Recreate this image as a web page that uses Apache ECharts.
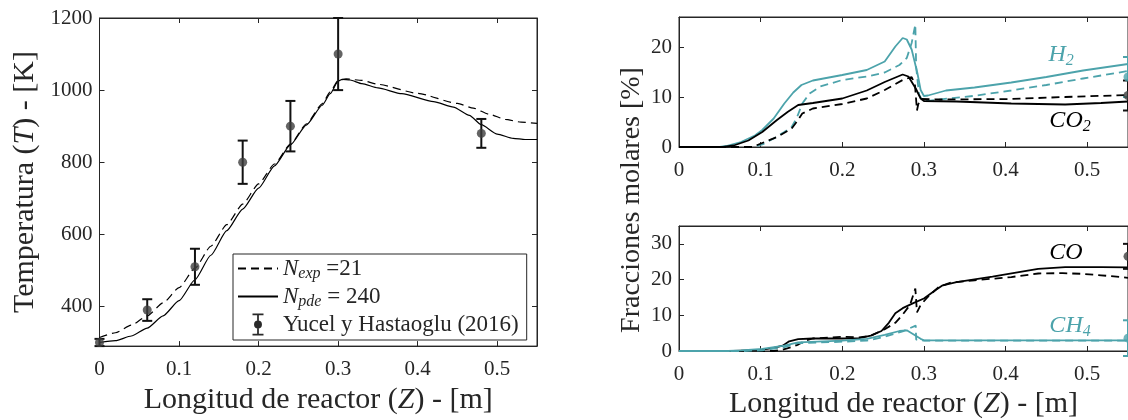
<!DOCTYPE html>
<html>
<head>
<meta charset="utf-8">
<script src="https://cdn.jsdelivr.net/npm/echarts@6/dist/echarts.min.js"></script>
<style>html,body{margin:0;padding:0;background:#fff}#c{width:1128px;height:420px}</style>
</head>
<body>
<div id="c"></div>
<script>
// ---------- data ----------
const xTicks = [0, 0.1, 0.2, 0.3, 0.4, 0.5];
const tTicks = [400, 600, 800, 1000, 1200];
const topTicks = [0, 10, 20];
const botTicks = [0, 10, 20, 30];

const tempExp = [[0,314],[0.02,327],[0.04,348],[0.06,374],[0.08,410],[0.10,452],[0.12,506],[0.14,567],[0.16,627],[0.18,684],[0.20,740],[0.22,795],[0.24,850],[0.26,906],[0.28,962],[0.29,995],[0.30,1027],[0.31,1031],[0.33,1027],[0.35,1016],[0.40,991],[0.45,963],[0.47,950],[0.49,933],[0.51,919],[0.53,911],[0.55,908]];
const tempPde = [[0,300],[0.02,305],[0.04,318],[0.06,340],[0.08,374],[0.10,416],[0.12,474],[0.14,542],[0.16,610],[0.18,670],[0.20,728],[0.22,790],[0.24,848],[0.26,903],[0.28,958],[0.29,990],[0.30,1025],[0.305,1030],[0.315,1028],[0.33,1018],[0.35,1006],[0.38,990],[0.42,968],[0.445,953],[0.465,930],[0.48,904],[0.50,878],[0.52,866],[0.535,863],[0.55,863]];

const expZ = [0, 0.06, 0.12, 0.18, 0.24, 0.30, 0.48];
const expT = [300, 390, 510, 800, 900, 1100, 880];
const expTerr = [10, 30, 50, 60, 70, 100, 40];

const h2Pde = [[0,0],[0.05,0],[0.058,0.2],[0.076,1.0],[0.093,2.3],[0.102,3.4],[0.116,5.7],[0.129,8.7],[0.14,10.9],[0.15,12.4],[0.164,13.3],[0.2,14.4],[0.23,15.4],[0.252,17.1],[0.265,20.1],[0.274,21.8],[0.279,21.5],[0.285,19.5],[0.292,14.8],[0.296,11.4],[0.3,10.2],[0.305,10.3],[0.327,11.3],[0.362,11.9],[0.407,12.9],[0.45,14.0],[0.495,15.3],[0.55,16.6]];
const h2Exp = [[0,0],[0.09,0],[0.102,0.5],[0.116,1.7],[0.129,3.0],[0.138,4.0],[0.144,5.7],[0.151,8.7],[0.16,10.7],[0.173,12.1],[0.2,13.4],[0.23,14.1],[0.252,14.9],[0.27,16.4],[0.279,17.8],[0.285,20.8],[0.2895,24.5],[0.2905,16],[0.294,10.5],[0.298,9.3],[0.305,9.2],[0.33,9.7],[0.36,10.2],[0.407,11.3],[0.45,12.4],[0.495,13.7],[0.55,15.2]];
const co2Pde = [[0,0],[0.054,0],[0.067,0.3],[0.085,1.3],[0.102,3.0],[0.12,5.4],[0.133,7.0],[0.146,8.4],[0.164,8.8],[0.2,9.7],[0.23,11.3],[0.252,13.0],[0.274,14.5],[0.281,14.1],[0.29,11.7],[0.296,9.7],[0.3,9.2],[0.34,9.1],[0.407,8.7],[0.473,8.5],[0.517,8.8],[0.55,9.1]];
const co2Exp = [[0,0],[0.09,0],[0.102,0.8],[0.12,2.0],[0.138,3.7],[0.144,5.0],[0.151,6.7],[0.164,7.7],[0.2,8.6],[0.23,9.7],[0.252,11.4],[0.274,13.4],[0.285,14.0],[0.289,12.5],[0.2915,7.3],[0.293,8.5],[0.296,9.6],[0.32,9.5],[0.407,9.6],[0.473,10.0],[0.55,10.4]];

const coPde = [[0,0],[0.067,0],[0.085,0.2],[0.102,0.4],[0.116,0.9],[0.127,1.5],[0.135,2.7],[0.146,3.3],[0.164,3.5],[0.2,3.5],[0.221,3.6],[0.235,4.3],[0.248,5.6],[0.257,7.9],[0.265,10.6],[0.274,12.0],[0.287,13.4],[0.3,14.7],[0.314,17.0],[0.323,18.4],[0.34,19.3],[0.384,20.8],[0.429,22.6],[0.44,23.0],[0.473,23.5],[0.517,23.5],[0.55,23.4]];
const coExp = [[0,0],[0.116,0],[0.127,0.4],[0.138,1.1],[0.146,1.8],[0.155,2.9],[0.164,3.5],[0.2,4.0],[0.221,3.8],[0.235,4.3],[0.252,6.1],[0.265,7.9],[0.274,10.2],[0.283,12.9],[0.2895,17.5],[0.2915,10.8],[0.296,12.9],[0.305,15.2],[0.318,17.9],[0.332,19.1],[0.362,19.8],[0.407,20.7],[0.44,21.7],[0.47,21.8],[0.495,21.6],[0.517,21.2],[0.55,20.5]];
const ch4Pde = [[0,0],[0.06,0],[0.076,0.2],[0.102,0.6],[0.129,1.5],[0.146,2.4],[0.2,2.9],[0.23,3.4],[0.252,4.5],[0.27,5.6],[0.279,5.8],[0.287,4.7],[0.296,3.4],[0.3,3.0],[0.55,3.0]];
const ch4Exp = [[0,0],[0.08,0],[0.102,0.2],[0.129,1.1],[0.146,2.2],[0.2,2.6],[0.23,2.9],[0.252,4.0],[0.274,5.5],[0.29,7.1],[0.2905,3.2],[0.3,2.9],[0.55,2.9]];

// experimental points at the right border of the composition panels
const edgeZ = [0.55];
const h2Pt = [14], h2Err = [4];
const co2Pt = [10.3], co2Err = [3];
const coPt = [26.5], coErr = [3.5];
const ch4Pt = [3.6], ch4Err = [5];

// annotation anchors (data coordinates)
const lblH2 = [0.468, 18.4], lblCO2 = [0.479, 5.3], lblCO = [0.474, 27.4], lblCH4 = [0.479, 7.0];

// ---------- style ----------
const FONT = "'Liberation Serif', serif";
const AX = '#262626';
const CY = '#4ca3ab';
const DOT = '#3d3d3d';

function rich(size, color) {
  return {
    i: {fontFamily: FONT, fontStyle: 'italic', fontSize: size, color: color, lineHeight: size + 4},
    s: {fontFamily: FONT, fontStyle: 'italic', fontSize: Math.round(size * 0.68), color: color, verticalAlign: 'bottom', lineHeight: Math.round(size * 0.6)},
    t: {fontFamily: FONT, fontSize: size, color: color, lineHeight: size + 4}
  };
}

function errData(z, v, e) { return z.map((x, k) => [x, v[k] - e[k], v[k] + e[k]]); }
function ptData(z, v) { return z.map((x, k) => [x, v[k]]); }

function errSeries(name, xi, yi, data, color) {
  return {
    name: name, type: 'custom', xAxisIndex: xi, yAxisIndex: yi, clip: false, z: 5,
    itemStyle: {color: color},
    encode: {x: 0, y: [1, 2]},
    data: data,
    renderItem: function (params, api) {
      const x = api.value(0), lo = api.value(1), hi = api.value(2);
      const a = api.coord([x, lo]), b = api.coord([x, hi]);
      const w = 5, st = {stroke: color, lineWidth: 2};
      return {type: 'group', children: [
        {type: 'line', shape: {x1: a[0], y1: a[1], x2: b[0], y2: b[1]}, style: st},
        {type: 'line', shape: {x1: a[0] - w, y1: a[1], x2: a[0] + w, y2: a[1]}, style: st},
        {type: 'line', shape: {x1: b[0] - w, y1: b[1], x2: b[0] + w, y2: b[1]}, style: st}
      ]};
    }
  };
}
function dotSeries(name, xi, yi, data, color) {
  return {name: name, type: 'scatter', xAxisIndex: xi, yAxisIndex: yi, clip: false, z: 6,
    symbol: 'circle', symbolSize: 9, itemStyle: {color: color}, data: data};
}
function lineSeries(name, xi, yi, data, color, dashed, width, smooth) {
  return {name: name, type: 'line', xAxisIndex: xi, yAxisIndex: yi, data: data,
    symbol: 'none', showSymbol: false, smooth: smooth || false, smoothMonotone: 'x',
    lineStyle: {color: color, width: width, type: dashed ? [8, 5] : 'solid'},
    itemStyle: {color: color}, z: 3};
}
function label(coord, fmt, color) {
  return {symbol: 'circle', symbolSize: 1, itemStyle: {color: 'rgba(0,0,0,0)'}, silent: true,
    label: {show: true, position: 'inside', formatter: fmt, rich: rich(24, color)},
    data: [{coord: coord}]};
}

const tickLbl = {fontFamily: FONT, fontSize: 21, color: AX};
const nameStyle = {fontFamily: FONT, fontSize: 30, color: AX, rich: rich(30, AX)};
const numFmt = function (v) { return String(Math.round(v * 1000) / 1000); };

function xAx(grid, ticks, opts) {
  return Object.assign({
    gridIndex: grid, type: 'value', min: 0, max: 0.55,
    axisLine: {show: true, onZero: false, lineStyle: {color: AX, width: 1}},
    axisTick: {show: true, inside: true, length: 5, customValues: ticks, lineStyle: {color: AX}},
    axisLabel: Object.assign({show: true, margin: 13, customValues: ticks, formatter: numFmt}, tickLbl),
    splitLine: {show: false}
  }, opts || {});
}
function yAx(grid, min, max, ticks, opts) {
  return Object.assign({
    gridIndex: grid, type: 'value', min: min, max: max,
    axisLine: {show: true, onZero: false, lineStyle: {color: AX, width: 1}},
    axisTick: {show: true, inside: true, length: 5, customValues: ticks, lineStyle: {color: AX}},
    axisLabel: Object.assign({show: true, margin: 7, customValues: ticks, formatter: numFmt}, tickLbl),
    splitLine: {show: false}
  }, opts || {});
}
const noLbl = {show: false};

const EXP = 'Yucel y Hastaoglu (2016)';
const errIcon = 'path://M0,0H10V1.6H5.8V18.4H10V20H0V18.4H4.2V1.6H0Z M8.6,10A3.6,3.6,0,1,1,1.4,10A3.6,3.6,0,1,1,8.6,10Z';

const option = {
  animation: false,
  backgroundColor: '#fff',
  textStyle: {fontFamily: FONT},
  grid: [
    {left: 99.5, top: 18, width: 437.5, height: 336, show: true, borderColor: AX, borderWidth: 1},
    {left: 679, top: 17, width: 451, height: 130, show: true, borderColor: AX, borderWidth: 1},
    {left: 679, top: 226, width: 451, height: 128, show: true, borderColor: AX, borderWidth: 1}
  ],
  xAxis: [
    xAx(0, xTicks, {name: 'Longitud de reactor ({i|Z}) - [m]', nameLocation: 'middle', nameGap: 36, nameTextStyle: nameStyle}),
    xAx(0, xTicks, {position: 'top', axisLabel: noLbl}),
    xAx(1, xTicks),
    xAx(1, xTicks, {position: 'top', axisLabel: noLbl}),
    xAx(2, xTicks, {name: 'Longitud de reactor ({i|Z}) - [m]', nameLocation: 'middle', nameGap: 36, nameTextStyle: nameStyle}),
    xAx(2, xTicks, {position: 'top', axisLabel: noLbl})
  ],
  yAxis: [
    yAx(0, 290, 1200, tTicks, {name: 'Temperatura ({i|T}) - [K]', nameLocation: 'middle', nameGap: 57, nameTextStyle: nameStyle}),
    yAx(0, 290, 1200, tTicks, {position: 'right', axisLabel: noLbl}),
    yAx(1, 0, 26, topTicks),
    yAx(2, 0, 35, botTicks)
  ],
  legend: {
    orient: 'vertical', left: 233, top: 254, itemWidth: 40, itemHeight: 22, itemGap: 3,
    padding: [3, 8, 4, 4], borderColor: AX, borderWidth: 1, backgroundColor: '#fff',
    selectedMode: false,
    textStyle: {fontFamily: FONT, fontSize: 23, color: AX, rich: rich(23, AX)},
    data: [
      {name: 'Nexp', itemStyle: {opacity: 0}},
      {name: 'Npde', itemStyle: {opacity: 0}},
      {name: EXP, icon: errIcon, itemStyle: {color: '#2a2a2a'}}
    ],
    formatter: function (n) {
      if (n === 'Nexp') return '{i|N}{s|exp}{t| =21}';
      if (n === 'Npde') return '{i|N}{s|pde}{t| = 240}';
      return '{t|' + n + '}';
    }
  },
  graphic: [{
    type: 'text', x: 632, y: 200, rotation: Math.PI / 2,
    style: {text: 'Fracciones molares [%]', fontFamily: FONT, fontSize: 28, fill: AX, align: 'center', verticalAlign: 'middle'}
  }],
  series: [
    lineSeries('Nexp', 0, 0, tempExp, '#000', true, 1.2, 0.2),
    lineSeries('Npde', 0, 0, tempPde, '#000', false, 1.2, 0.2),
    errSeries(EXP, 0, 0, errData(expZ, expT, expTerr), '#111'),
    dotSeries(EXP, 0, 0, ptData(expZ, expT), DOT),

    lineSeries('h2e', 2, 2, h2Exp, CY, true, 1.8),
    Object.assign(lineSeries('h2p', 2, 2, h2Pde, CY, false, 1.8), {markPoint: label(lblH2, '{i|H}{s|2}', CY)}),
    lineSeries('co2e', 2, 2, co2Exp, '#000', true, 1.8),
    Object.assign(lineSeries('co2p', 2, 2, co2Pde, '#000', false, 1.8), {markPoint: label(lblCO2, '{i|CO}{s|2}', '#000')}),
    errSeries('h2x', 2, 2, errData(edgeZ, h2Pt, h2Err), CY),
    dotSeries('h2x', 2, 2, ptData(edgeZ, h2Pt), CY),
    errSeries('co2x', 2, 2, errData(edgeZ, co2Pt, co2Err), '#111'),
    dotSeries('co2x', 2, 2, ptData(edgeZ, co2Pt), DOT),

    lineSeries('coe', 4, 3, coExp, '#000', true, 1.8),
    Object.assign(lineSeries('cop', 4, 3, coPde, '#000', false, 1.8), {markPoint: label(lblCO, '{i|CO}', '#000')}),
    lineSeries('ch4e', 4, 3, ch4Exp, CY, true, 1.8),
    Object.assign(lineSeries('ch4p', 4, 3, ch4Pde, CY, false, 1.8), {markPoint: label(lblCH4, '{i|CH}{s|4}', CY)}),
    errSeries('cox', 4, 3, errData(edgeZ, coPt, coErr), '#111'),
    dotSeries('cox', 4, 3, ptData(edgeZ, coPt), DOT),
    errSeries('ch4x', 4, 3, errData(edgeZ, ch4Pt, ch4Err), CY),
    dotSeries('ch4x', 4, 3, ptData(edgeZ, ch4Pt), CY)
  ]
};

const chart = echarts.init(document.getElementById('c'), null, {renderer: 'canvas'});
chart.setOption(option);
</script>
</body>
</html>
